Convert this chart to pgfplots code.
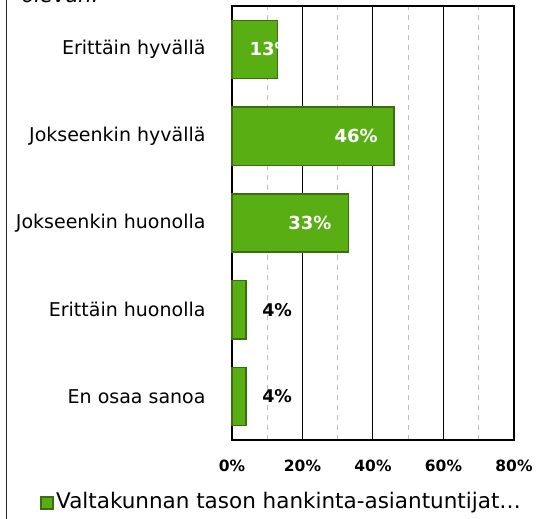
\documentclass[border=0pt]{standalone}
\usepackage{fontspec}
\setmainfont{DejaVu Sans}
\usepackage{pgfplots}
\pgfplotsset{compat=1.18}

\definecolor{barfill}{RGB}{88,174,18}
\definecolor{barline}{RGB}{58,110,14}
\definecolor{minorgrid}{RGB}{190,190,190}

% values (%), category index 4..0 from top
\pgfplotstableread{
c v
4 13
3 46
2 33
1 4
0 4
}\bars

% labels: white inside bars, black beside the small ones
\pgfplotstableread{
c x lab
4 11.1 13\%
3 35.2 46\%
2 22.1 33\%
}\whitelabels
\pgfplotstableread{
c x lab
1 12.8 4\%
0 12.8 4\%
}\blacklabels

\begin{document}
\begin{tikzpicture}[x=1pt,y=1pt]
\begin{axis}[
    at={(232pt,79pt)}, anchor=south west,
    scale only axis,
    width=282pt, height=434pt,
    xmin=0, xmax=80,
    ymin=-0.5, ymax=4.5,
    xtick={0,20,40,60,80},
    minor xtick={10,30,50,70},
    xticklabel={\pgfmathprintnumber{\tick}\%},
    xticklabel style={font=\fontsize{15.5}{15.5}\selectfont\bfseries, yshift=-16pt},
    ytick={0,1,2,3,4},
    yticklabels={En osaa sanoa, Erittäin huonolla, Jokseenkin huonolla, Jokseenkin hyvällä, Erittäin hyvällä},
    yticklabel style={font=\fontsize{19}{19}\selectfont, xshift=-23pt},
    /pgf/number format/assume math mode=true,
    major tick length=0pt, minor tick length=0pt,
    xmajorgrids, xminorgrids,
    major grid style={black, line width=1pt},
    minor grid style={minorgrid, line width=1pt, dash pattern=on 5pt off 5pt},
    axis line style={black, line width=1.5pt},
    clip=false,
]
\addplot[xbar, bar width=0.67, bar shift=0, fill=barfill, draw=barline, line width=1.3pt] table[x=v, y=c] {\bars};
\addplot[draw=none, mark=none, nodes near coords, point meta=explicit symbolic,
    every node near coord/.style={font=\fontsize{18}{18}\selectfont\bfseries, text=white, anchor=center}]
    table[x=x, y=c, meta=lab] {\whitelabels};
\addplot[draw=none, mark=none, nodes near coords, point meta=explicit symbolic,
    every node near coord/.style={font=\fontsize{17.5}{17.5}\selectfont\bfseries, text=black, anchor=center}]
    table[x=x, y=c, meta=lab] {\blacklabels};
\end{axis}
% chart frame and cropped title
\draw[line width=1.5pt, black!85] (6.5pt,0pt) -- (6.5pt,519pt);
\node[anchor=west, font=\fontsize{21}{21}\selectfont\itshape] at (18pt,524pt) {olevan:};
% legend
\draw[barline, fill=barfill, line width=1.2pt] (41pt,10pt) rectangle (53pt,22pt);
\node[anchor=west, font=\fontsize{21.5}{21.5}\selectfont, inner sep=0pt] at (56pt,16pt) {Valtakunnan tason hankinta-asiantuntijat…};
\pgfresetboundingbox
\useasboundingbox (0pt,0pt) rectangle (539pt,519pt);
\end{tikzpicture}
\end{document}
